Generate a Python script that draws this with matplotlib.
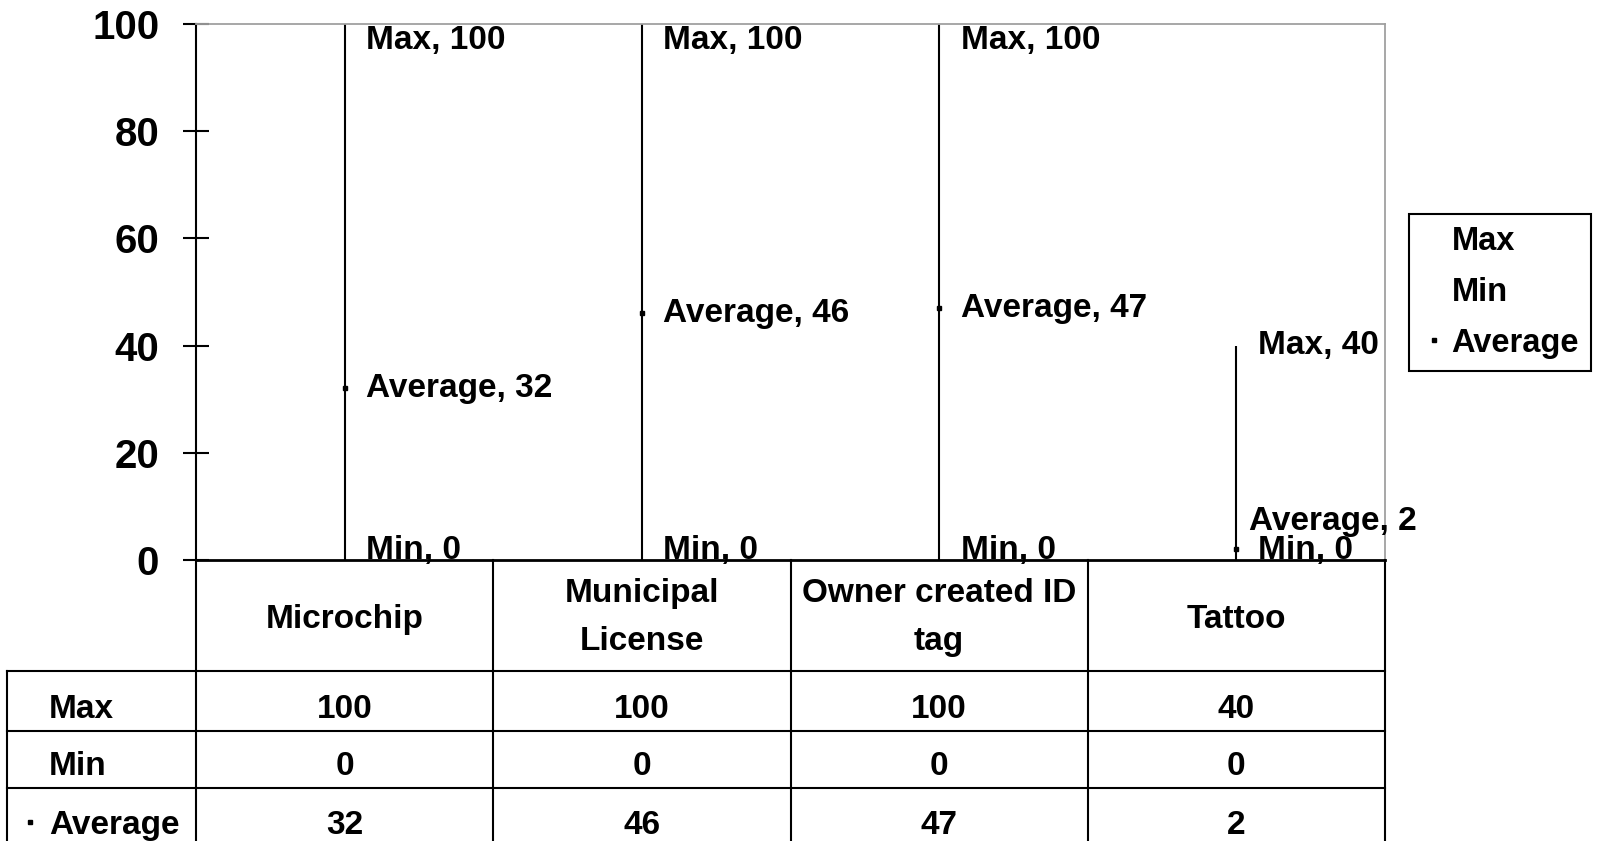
import matplotlib
matplotlib.use('Agg')
import matplotlib.pyplot as plt
from matplotlib.lines import Line2D
from matplotlib.transforms import blended_transform_factory
import numpy as np

categories = ["Microchip", "Municipal\nLicense", "Owner created ID\ntag", "Tattoo"]
max_vals = [100, 100, 100, 40]
min_vals = [0, 0, 0, 0]
avg_vals = [32, 46, 47, 2]
series_names = ["Max", "Min", "Average"]
yticks = [0, 20, 40, 60, 80, 100]

W, H = 1602, 841
plt.rcParams['font.family'] = ['Liberation Sans', 'DejaVu Sans']
plt.rcParams['font.weight'] = 'bold'

fig = plt.figure(figsize=(W / 100, H / 100), dpi=100)


def fx(px):
    return px / W


def fy(py):
    return 1 - py / H


AX_L, AX_R, AX_T, AX_B = 196, 1385, 24, 560
ax = fig.add_axes([fx(AX_L), fy(AX_B), fx(AX_R) - fx(AX_L), fy(AX_T) - fy(AX_B)])
x = np.arange(len(categories))
ax.vlines(x, min_vals, max_vals, color='black', lw=1.5, zorder=2)
ax.plot(x, avg_vals, linestyle='none', marker='s', ms=3, color='black', zorder=3)
ax.set_xlim(-0.5, len(categories) - 0.5)
ax.set_ylim(0, 100)
ax.set_xticks([])
ax.set_yticks(yticks)
ax.tick_params(axis='y', direction='inout', length=19, width=1.5, pad=17, labelsize=29)
for lbl in ax.get_yticklabels():
    lbl.set_fontweight('bold')
ax.spines['top'].set_color('#a0a0a0')
ax.spines['right'].set_color('#a0a0a0')
ax.spines['top'].set_linewidth(1.3)
ax.spines['right'].set_linewidth(1.3)
ax.spines['left'].set_linewidth(1.5)
ax.spines['bottom'].set_linewidth(2)
ax.spines['bottom'].set_zorder(5)

# data labels
pt_per_unit = (AX_B - AX_T) / 100 / (100 / 72)
top_lim = 100 * pt_per_unit - 12
bot_lim = 7
for i in range(len(categories)):
    entries = []
    for name, vals in zip(series_names, [max_vals, min_vals, avg_vals]):
        v = vals[i]
        c = min(max(v * pt_per_unit, bot_lim), top_lim)
        entries.append([name, v, c, 15.5])
    # resolve overlap between Average and Min labels
    min_c = entries[1][2]
    if abs(entries[2][2] - min_c) < 22:
        entries[2][2] = min_c + 21
        entries[2][3] = 9
    for name, v, c, dx in entries:
        ax.annotate(f"{name}, {v}", xy=(i, v), xytext=(dx, c - v * pt_per_unit),
                    textcoords='offset points', ha='left', va='center',
                    fontsize=24, fontweight='bold', annotation_clip=False, zorder=4)

# legend
handles = [Line2D([], [], ls='none'), Line2D([], [], ls='none'),
           Line2D([], [], ls='none', marker='s', ms=3, color='black')]
leg = fig.legend(handles=handles, labels=series_names, loc='upper left',
                 bbox_to_anchor=(fx(1409), fy(214)), frameon=True, fancybox=False,
                 edgecolor='black', framealpha=1, prop=dict(size=23.5, weight='bold'),
                 handlelength=0.8, handletextpad=0.12, borderpad=0.38,
                 labelspacing=0.6, borderaxespad=0)
leg.get_frame().set_linewidth(1.5)

# data table
trans = blended_transform_factory(ax.transData, fig.transFigure)
TB = 848
row_lines = [671, 731, 788]
row_base = [718, 775, 834]
lw = 1.5
for k in range(len(categories) + 1):
    fig.add_artist(Line2D([k - 0.5, k - 0.5], [fy(AX_B), fy(TB)], color='black', lw=lw,
                          transform=trans))
fig.add_artist(Line2D([fx(7), fx(7)], [fy(row_lines[0]), fy(TB)], color='black', lw=lw,
                      transform=fig.transFigure))
for ry in row_lines:
    fig.add_artist(Line2D([fx(7), fx(AX_R)], [fy(ry), fy(ry)], color='black', lw=lw,
                          transform=fig.transFigure))

# header
for i, cat in enumerate(categories):
    lines = cat.split("\n")
    if len(lines) == 1:
        bases = [628]
    else:
        bases = [602, 650]
    for ln, b in zip(lines, bases):
        fig.text(i, fy(b), ln, transform=trans, ha='center', va='baseline',
                 fontsize=24, fontweight='bold')

# rows
for r, (name, vals) in enumerate(zip(series_names, [max_vals, min_vals, avg_vals])):
    fig.text(fx(49), fy(row_base[r]), name, ha='left', va='baseline',
             fontsize=24, fontweight='bold')
    for i, v in enumerate(vals):
        fig.text(i, fy(row_base[r]), str(v), transform=trans, ha='center', va='baseline',
                 fontsize=24, fontweight='bold')
fig.add_artist(Line2D([fx(30)], [fy(row_base[2] - 12)], ls='none', marker='s', ms=3,
                      color='black', transform=fig.transFigure))

fig.savefig('out.png', dpi=100)
